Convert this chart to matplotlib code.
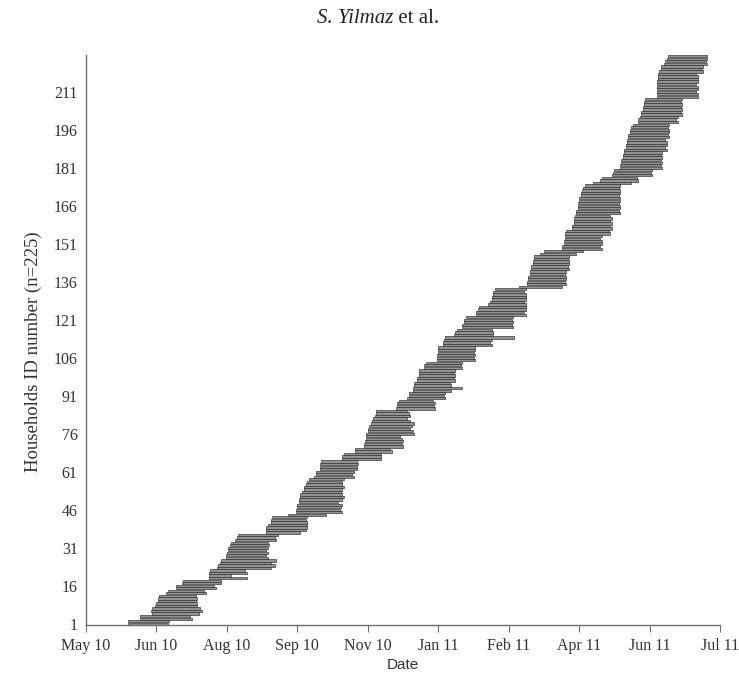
import numpy as np
import matplotlib
matplotlib.use('Agg')
import matplotlib.pyplot as plt
import matplotlib.dates as mdates

# start / end of each household's monitoring period, in days after 1 May 2010
start_days = [30, 30, 38, 38, 47, 46, 47, 49, 50, 51, 51, 52, 57, 58, 64, 64, 68, 69, 87, 87,
              87, 88, 93, 94, 95, 96, 99, 99, 100, 101, 101, 102, 103, 106, 107, 108, 128, 128, 128, 129,
              131, 131, 132, 143, 149, 149, 150, 150, 151, 151, 152, 152, 153, 155, 155, 156, 157, 158, 162, 163,
              163, 166, 166, 166, 167, 182, 182, 183, 191, 191, 197, 197, 198, 199, 199, 199, 200, 200, 201, 202,
              203, 204, 205, 206, 206, 220, 221, 221, 222, 228, 229, 229, 232, 232, 233, 233, 235, 235, 236, 236,
              236, 240, 240, 241, 249, 249, 249, 250, 250, 250, 253, 253, 254, 255, 261, 262, 263, 267, 267, 268,
              268, 270, 277, 277, 278, 279, 285, 287, 288, 288, 289, 289, 290, 307, 313, 313, 314, 314, 315, 315,
              316, 316, 317, 317, 318, 318, 322, 325, 338, 338, 339, 339, 340, 340, 340, 341, 345, 345, 346, 346,
              346, 347, 348, 348, 349, 349, 349, 350, 350, 351, 351, 352, 353, 354, 360, 365, 366, 373, 374, 375,
              379, 379, 380, 380, 381, 381, 382, 382, 383, 383, 384, 384, 385, 385, 386, 386, 387, 388, 392, 392,
              393, 394, 394, 395, 395, 396, 396, 397, 405, 405, 405, 405, 405, 405, 405, 406, 406, 406, 407, 408,
              408, 410, 411, 412, 413]
end_days = [58, 59, 75, 74, 80, 82, 81, 79, 79, 78, 79, 78, 85, 84, 92, 91, 96, 96, 114, 103,
            114, 113, 131, 134, 131, 135, 129, 128, 129, 128, 129, 130, 129, 135, 134, 136, 152, 156, 157, 157,
            157, 156, 157, 170, 182, 180, 181, 182, 179, 182, 183, 182, 181, 182, 183, 182, 182, 183, 190, 189,
            190, 192, 192, 193, 192, 209, 209, 209, 217, 216, 225, 224, 225, 224, 223, 233, 232, 230, 231, 233,
            230, 228, 230, 229, 228, 248, 247, 248, 246, 255, 254, 255, 259, 267, 259, 258, 262, 261, 262, 261,
            262, 267, 266, 267, 276, 275, 276, 275, 276, 276, 288, 287, 288, 304, 289, 289, 288, 303, 302, 303,
            302, 303, 312, 311, 312, 312, 312, 311, 312, 312, 312, 311, 312, 338, 341, 340, 341, 341, 340, 341,
            343, 342, 343, 343, 342, 343, 348, 353, 366, 365, 366, 366, 365, 366, 372, 371, 373, 372, 373, 372,
            373, 372, 379, 378, 379, 379, 378, 379, 379, 378, 379, 379, 378, 379, 387, 392, 391, 402, 401, 402,
            409, 408, 409, 408, 409, 408, 409, 412, 411, 412, 412, 411, 414, 413, 414, 414, 413, 414, 420, 419,
            420, 423, 422, 423, 422, 423, 422, 423, 434, 434, 433, 434, 434, 433, 434, 434, 434, 433, 438, 437,
            438, 441, 440, 441, 441]

households = np.arange(1, len(start_days) + 1)
origin = np.datetime64('2010-05-01')
starts = origin + np.array(start_days).astype('timedelta64[D]')
ends = origin + np.array(end_days).astype('timedelta64[D]')

left = mdates.date2num(starts)
width = mdates.date2num(ends) - left

fig = plt.figure(figsize=(7.39, 6.74), dpi=100)
ax = fig.add_axes([0.1164, 0.0727, 0.858, 0.8457])

ax.barh(households, width, left=left, height=0.9, color='#939393',
        edgecolor='#2a2a2a', linewidth=0.45)

tick_dates = origin + (np.arange(0, 451, 50)).astype('timedelta64[D]')
ax.set_xticks(mdates.date2num(tick_dates))
ax.xaxis.set_major_formatter(mdates.DateFormatter('%b %y'))
ax.set_xlim(mdates.date2num(tick_dates[0]), mdates.date2num(tick_dates[-1]))
ax.set_ylim(0.5, 225.5)
ax.set_yticks(np.arange(1, 212, 15))

for s in ['top', 'right']:
    ax.spines[s].set_visible(False)
for s in ['left', 'bottom']:
    ax.spines[s].set_color('#6e6e6e')
    ax.spines[s].set_linewidth(1.0)

ax.tick_params(axis='y', length=0, pad=6)
ax.tick_params(axis='x', length=5, direction='out', color='#6e6e6e', pad=4)
for lab in ax.get_xticklabels() + ax.get_yticklabels():
    lab.set_fontfamily('Liberation Serif')
    lab.set_fontsize(11.5)
    lab.set_color('#333333')

ax.set_xlabel('Date', fontfamily='Liberation Sans', fontsize=11, color='#333333', labelpad=3)
ax.set_ylabel('Households ID number (n=225)', fontfamily='Liberation Serif',
              fontsize=13.5, color='#333333')
ax.yaxis.set_label_coords(-0.069, 0.48)

fig.text(0.532, 0.972, 'S. Yilmaz', style='italic', ha='right', va='center',
         fontfamily='Liberation Serif', fontsize=15, color='#222222')
fig.text(0.532, 0.972, ' et al.', ha='left', va='center',
         fontfamily='Liberation Serif', fontsize=15, color='#222222')

fig.savefig('out.png', dpi=100)
